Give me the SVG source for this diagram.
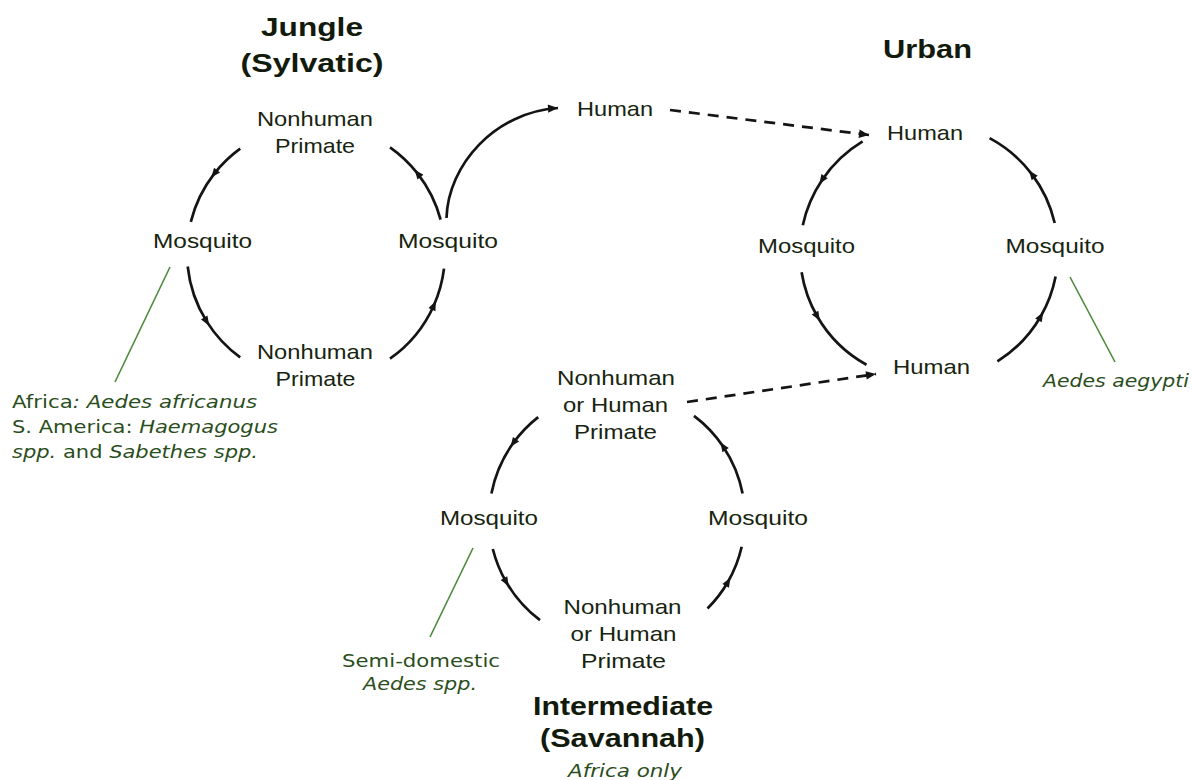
<svg xmlns="http://www.w3.org/2000/svg" width="1192" height="780" viewBox="0 0 1192 780">
<style>
.lbl{font-family:"Liberation Sans",Arial,sans-serif;font-size:21px;fill:#17240f;text-anchor:middle}
.ttl{font-family:"Liberation Sans",Arial,sans-serif;font-size:26px;font-weight:bold;fill:#121a0c;text-anchor:middle}
.ann{font-family:"DejaVu Sans",Verdana,sans-serif;font-size:17px;fill:#2a4d1c}
.it{font-style:italic}
.arc{fill:none;stroke:#141414;stroke-width:2.7;marker-mid:url(#mid)}
.cur{fill:none;stroke:#141414;stroke-width:2.7;marker-end:url(#end)}
.dash{fill:none;stroke:#141414;stroke-width:2.7;stroke-dasharray:11 8;marker-end:url(#end)}
.lead{fill:none;stroke:#4a8a3a;stroke-width:1.6}
</style>
<defs>
<marker id="mid" markerUnits="userSpaceOnUse" markerWidth="14" markerHeight="14" viewBox="-7 -7 14 14" refX="0" refY="0" orient="auto">
<path d="M-4.5,-3.8 L5,0 L-4.5,3.8 z" fill="#141414"/>
</marker>
<marker id="end" markerUnits="userSpaceOnUse" markerWidth="14" markerHeight="14" viewBox="-12 -6 14 12" refX="0" refY="0" orient="auto">
<path d="M-10,-4.2 L0,0 L-10,4.2 z" fill="#141414"/>
</marker>
</defs>
<rect width="1192" height="780" fill="#ffffff"/>

<g id="connectors">
<!-- Jungle cycle -->
<path class="arc" d="M240.2,148.6 A129,129 0 0 0 214.3,173.6 A129,129 0 0 0 190.8,221.8"/>
<path class="arc" d="M187.7,266.5 A129,129 0 0 0 206.6,321.4 A129,129 0 0 0 240.2,357.4"/>
<path class="arc" d="M390.0,358.7 A129,129 0 0 0 433.8,305.5 A129,129 0 0 0 444.0,268.7"/>
<path class="arc" d="M440.6,219.6 A129,129 0 0 0 417.7,173.6 A129,129 0 0 0 390.0,147.3"/>
<path class="cur" d="M446.5,218 C448,165 495,112 558,108"/>
<path class="dash" d="M670,110 L869,135"/>
<!-- Urban cycle -->
<path class="arc" d="M862.6,141.4 A129,129 0 0 0 822.1,179.9 A129,129 0 0 0 802.8,225.2"/>
<path class="arc" d="M801.6,272.2 A129,129 0 0 0 817.3,316.5 A129,129 0 0 0 866.5,364.8"/>
<path class="arc" d="M997.4,361.4 A129,129 0 0 0 1040.7,316.5 A129,129 0 0 0 1055.6,276.6"/>
<path class="arc" d="M1054.7,223.0 A129,129 0 0 0 1032.0,174.4 A129,129 0 0 0 989.6,138.1"/>
<!-- Intermediate cycle -->
<path class="arc" d="M538.2,417.1 A128,128 0 0 0 513.4,442.8 A128,128 0 0 0 491.4,493.6"/>
<path class="arc" d="M492.8,549.0 A128,128 0 0 0 506.2,582.0 A128,128 0 0 0 540.0,620.2"/>
<path class="arc" d="M707.5,608.5 A128,128 0 0 0 727.9,582.0 A128,128 0 0 0 741.7,546.8"/>
<path class="arc" d="M742.6,493.6 A128,128 0 0 0 723.1,446.4 A128,128 0 0 0 694.0,415.8"/>
<path class="dash" d="M687,402 L876,374"/>
<!-- annotation leader lines -->
<line class="lead" x1="170" y1="267" x2="115" y2="382"/>
<line class="lead" x1="1070" y1="277" x2="1115" y2="362"/>
<line class="lead" x1="473" y1="548" x2="430" y2="637"/>
</g>

<g id="title-jungle">
<text class="ttl" x="312" y="36" textLength="102" lengthAdjust="spacingAndGlyphs">Jungle</text>
<text class="ttl" x="312" y="72" textLength="143" lengthAdjust="spacingAndGlyphs">(Sylvatic)</text>
</g>
<g id="title-urban">
<text class="ttl" x="927.5" y="58" textLength="89" lengthAdjust="spacingAndGlyphs">Urban</text>
</g>
<g id="title-intermediate">
<text class="ttl" x="623" y="715" textLength="180" lengthAdjust="spacingAndGlyphs">Intermediate</text>
<text class="ttl" x="622.5" y="747" textLength="165" lengthAdjust="spacingAndGlyphs">(Savannah)</text>
<text class="ann it" x="625" y="777" text-anchor="middle" textLength="114" lengthAdjust="spacingAndGlyphs">Africa only</text>
</g>

<g id="j-nhp-top">
<text class="lbl" x="315" y="126" textLength="116" lengthAdjust="spacingAndGlyphs">Nonhuman</text>
<text class="lbl" x="315" y="153" textLength="80" lengthAdjust="spacingAndGlyphs">Primate</text>
</g>
<g id="j-mosq-left">
<text class="lbl" x="202.5" y="248" textLength="99" lengthAdjust="spacingAndGlyphs">Mosquito</text>
</g>
<g id="j-mosq-right">
<text class="lbl" x="448" y="248" textLength="100" lengthAdjust="spacingAndGlyphs">Mosquito</text>
</g>
<g id="j-nhp-bottom">
<text class="lbl" x="315" y="359" textLength="116" lengthAdjust="spacingAndGlyphs">Nonhuman</text>
<text class="lbl" x="315.5" y="386" textLength="80" lengthAdjust="spacingAndGlyphs">Primate</text>
</g>
<g id="j-human">
<text class="lbl" x="615" y="116" textLength="76" lengthAdjust="spacingAndGlyphs">Human</text>
</g>

<g id="u-human-top">
<text class="lbl" x="925" y="140" textLength="76" lengthAdjust="spacingAndGlyphs">Human</text>
</g>
<g id="u-mosq-left">
<text class="lbl" x="806.5" y="253" textLength="97" lengthAdjust="spacingAndGlyphs">Mosquito</text>
</g>
<g id="u-mosq-right">
<text class="lbl" x="1055" y="253" textLength="99" lengthAdjust="spacingAndGlyphs">Mosquito</text>
</g>
<g id="u-human-bottom">
<text class="lbl" x="931.5" y="374" textLength="77" lengthAdjust="spacingAndGlyphs">Human</text>
</g>

<g id="i-primate-top">
<text class="lbl" x="616" y="385" textLength="118" lengthAdjust="spacingAndGlyphs">Nonhuman</text>
<text class="lbl" x="615.5" y="412" textLength="105" lengthAdjust="spacingAndGlyphs">or Human</text>
<text class="lbl" x="615.5" y="439" textLength="83" lengthAdjust="spacingAndGlyphs">Primate</text>
</g>
<g id="i-mosq-left">
<text class="lbl" x="489" y="525" textLength="98" lengthAdjust="spacingAndGlyphs">Mosquito</text>
</g>
<g id="i-mosq-right">
<text class="lbl" x="758" y="525" textLength="100" lengthAdjust="spacingAndGlyphs">Mosquito</text>
</g>
<g id="i-primate-bottom">
<text class="lbl" x="622.5" y="614" textLength="118" lengthAdjust="spacingAndGlyphs">Nonhuman</text>
<text class="lbl" x="623.5" y="641" textLength="106" lengthAdjust="spacingAndGlyphs">or Human</text>
<text class="lbl" x="623.5" y="668" textLength="85" lengthAdjust="spacingAndGlyphs">Primate</text>
</g>

<g id="note-jungle">
<text class="ann" x="12" y="408" textLength="245" lengthAdjust="spacingAndGlyphs">Africa<tspan class="it">: Aedes africanus</tspan></text>
<text class="ann" x="12" y="433" textLength="266" lengthAdjust="spacingAndGlyphs">S. America: <tspan class="it">Haemagogus</tspan></text>
<text class="ann" x="12" y="458" textLength="246" lengthAdjust="spacingAndGlyphs"><tspan class="it">spp.</tspan> and <tspan class="it">Sabethes spp.</tspan></text>
</g>
<g id="note-urban">
<text class="ann it" x="1043" y="387" textLength="146" lengthAdjust="spacingAndGlyphs">Aedes aegypti</text>
</g>
<g id="note-intermediate">
<text class="ann" x="421" y="667" text-anchor="middle" textLength="158" lengthAdjust="spacingAndGlyphs">Semi-domestic</text>
<text class="ann it" x="420" y="690" text-anchor="middle" textLength="114" lengthAdjust="spacingAndGlyphs">Aedes spp.</text>
</g>
</svg>
